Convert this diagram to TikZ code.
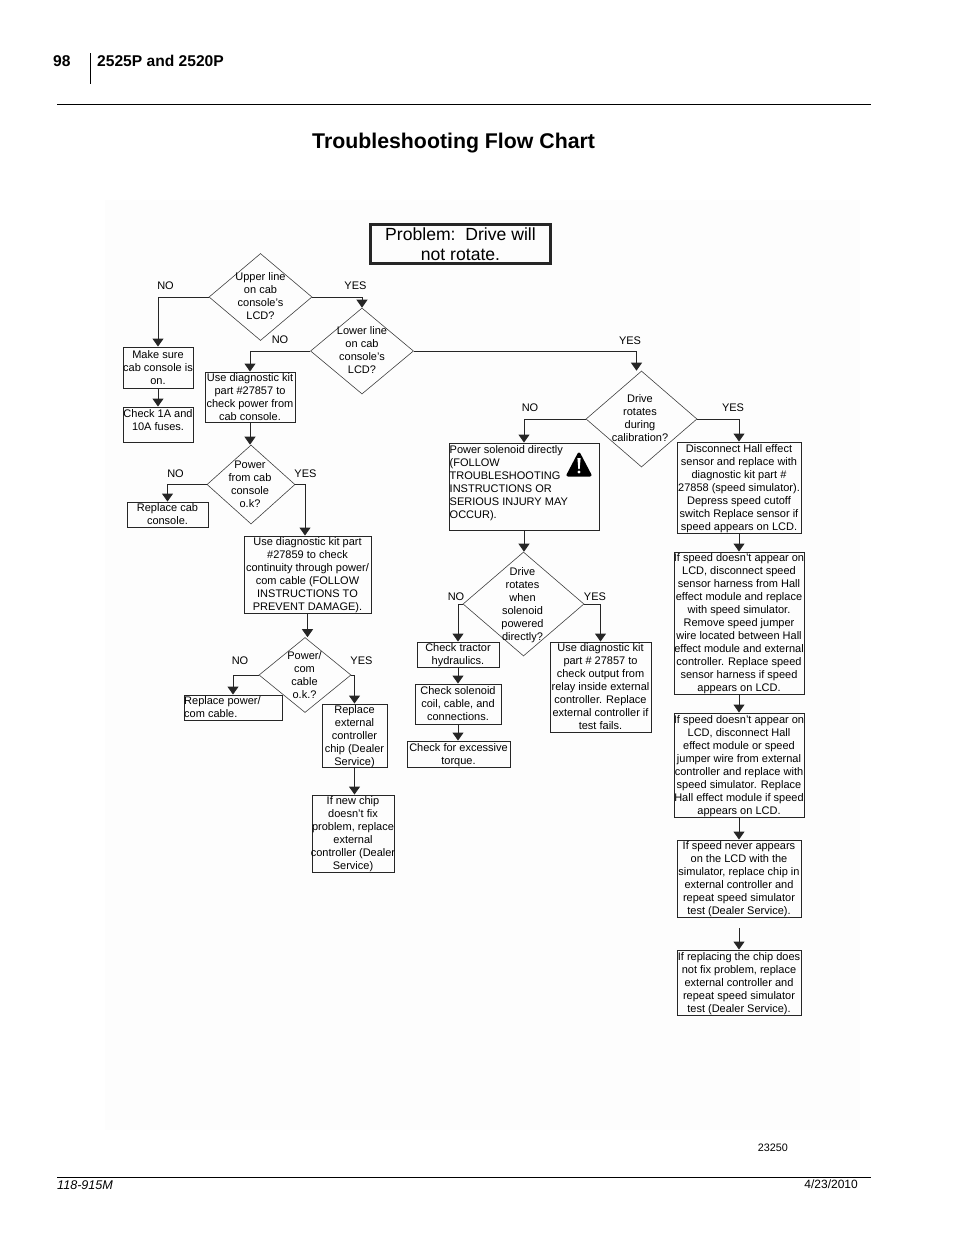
\documentclass[tikz,border=0pt]{standalone}
\usepackage{fontspec}
\setmainfont{Liberation Sans}
\usetikzlibrary{shapes.geometric, arrows.meta, calc}

\tikzset{
	box/.style={draw=black!85, line width=0.9pt, inner ysep=0pt, inner xsep=-3pt, align=center, text depth=-2pt, font=\fontsize{11}{13}\selectfont},
	dia/.style={diamond, draw=black!75, line width=0.6pt, inner sep=0pt, aspect=1},
	txt/.style={inner sep=0pt, align=center, text depth=-2pt, font=\fontsize{11}{13}\selectfont},
	lefttxt/.style={txt, align=left},
	yesno/.style={inner sep=0pt, font=\fontsize{11}{13}\selectfont},
	link/.style={draw=black!85, line width=1pt, -{Triangle[length=8pt, width=11pt]}},
	head/.style={inner sep=0pt, font=\fontsize{15.6}{18}\selectfont\bfseries}
}

\begin{document}
\begin{tikzpicture}[x=1pt, y=-1pt]
	\useasboundingbox (0, 0) rectangle (954, 1235);
	\fill[black!0.6] (105, 200) rectangle (860, 1130);

	% page header and footer
	\node[head, anchor=west] (pagenum) at (53, 61) {98};
	\node[head, anchor=west] (model) at (97, 61) {2525P and 2520P};
	\draw[line width=1pt] (90, 53) -- (90, 84);
	\draw[line width=1pt] (57, 104.5) -- (871, 104.5);
	\node[inner sep=0pt, anchor=west, font=\fontsize{21.3}{26}\selectfont\bfseries] (title) at (312, 143) {Troubleshooting Flow Chart};
	\draw[line width=1pt] (57, 1177) -- (871, 1177);
	\node[inner sep=0pt, anchor=west, font=\fontsize{12.6}{14}\selectfont\itshape] (partnum) at (57, 1185.5) {118-915M};
	\node[inner sep=0pt, anchor=east, font=\fontsize{12}{14}\selectfont] (date) at (858, 1184) {4/23/2010};
	\node[inner sep=0pt, anchor=east, font=\fontsize{10.8}{13}\selectfont] (fignum) at (788, 1147.5) {23250};

	\node[box, line width=3pt, minimum width=180pt, minimum height=39pt, font=\fontsize{17.6}{20}\selectfont, text depth=-6pt] (problem) at (460.5, 244) {Problem:\ \ Drive will\\not rotate.};

	% left branch
	\node[dia, minimum width=103pt, minimum height=87pt] (upper) at (260.5, 297) {};
	\node[txt] (uppertxt) at (260.5, 296.5) {Upper line\\on cab\\console's\\LCD?};
	\node[dia, minimum width=103pt, minimum height=86pt] (lower) at (362, 351) {};
	\node[txt] (lowertxt) at (362, 350.5) {Lower line\\on cab\\console's\\LCD?};
	\node[box, minimum width=70pt, minimum height=41pt] (make) at (158, 367.5) {Make sure\\cab console is\\on.};
	\node[box, minimum width=70pt, minimum height=35pt] (fuses) at (158, 424.5) {Check 1A and\\10A fuses.\\[-5pt]\mbox{}};
	\node[box, minimum width=90pt, minimum height=50pt] (kitone) at (250, 397) {Use diagnostic kit\\part \#27857 to\\check power from\\cab console.};
	\node[dia, minimum width=88pt, minimum height=79pt] (power) at (251, 484.5) {};
	\node[txt] (powertxt) at (250, 484.5) {Power\\from cab\\console\\o.k?};
	\node[box, minimum width=81pt, minimum height=25pt] (cab) at (167.5, 514.5) {Replace cab\\console.};
	\node[box, minimum width=127pt, minimum height=77pt] (kittwo) at (307.5, 574.5) {Use diagnostic kit part\\\#27859 to check\\continuity through power/\\com cable (FOLLOW\\INSTRUCTIONS TO\\PREVENT DAMAGE).};
	\node[dia, minimum width=92pt, minimum height=75pt] (com) at (305, 675) {};
	\node[txt] (comtxt) at (304.5, 675) {Power/\\com\\cable\\o.k.?};
	\node[box, minimum width=98pt, minimum height=25pt] (cable) at (233, 707.5) {};
	\node[lefttxt, anchor=west] (cabletxt) at (184, 707.5) {Replace power/\\com cable.};
	\node[box, minimum width=65pt, minimum height=63pt] (chip) at (354.5, 735.5) {Replace\\external\\controller\\chip (Dealer\\Service)};
	\node[box, minimum width=82pt, minimum height=77pt] (newchip) at (353, 833.5) {If new chip\\doesn't fix\\problem, replace\\external\\controller (Dealer\\Service)};

	% middle branch
	\node[dia, minimum width=111pt, minimum height=96pt] (drive) at (641.5, 419) {};
	\node[txt] (drivetxt) at (640, 418.5) {Drive\\rotates\\during\\calibration?};
	\node[box, minimum width=150pt, minimum height=87pt] (solenoid) at (524, 486.5) {};
	\node[lefttxt, anchor=north west] (solenoidtxt) at (449.5, 445) {Power solenoid directly\\(FOLLOW\\TROUBLESHOOTING\\INSTRUCTIONS OR\\SERIOUS INJURY MAY\\OCCUR).};
	\fill[line join=round, draw=black, line width=3pt] (579, 454) -- (590, 475) -- (568, 475) -- cycle;
	\fill[white] (577.4, 458) -- (580.6, 458) -- (579.7, 469) -- (578.3, 469) -- cycle;
	\fill[white] (579, 472) circle[radius=1.7];
	\node[dia, minimum width=121pt, minimum height=104pt] (whendia) at (523.5, 604) {};
	\node[txt] (whentxt) at (522.5, 604) {Drive\\rotates\\when\\solenoid\\powered\\directly?};
	\node[box, minimum width=82pt, minimum height=25pt] (tractor) at (458, 654.5) {Check tractor\\hydraulics.};
	\node[box, minimum width=86pt, minimum height=40pt] (coil) at (458, 704) {Check solenoid\\coil, cable, and\\connections.};
	\node[box, minimum width=103pt, minimum height=26pt] (torque) at (458.5, 754) {Check for excessive\\torque.};
	\node[box, minimum width=101pt, minimum height=90pt] (kitthree) at (600.5, 687) {Use diagnostic kit\\part \# 27857 to\\check output from\\relay inside external\\controller.  Replace\\external controller if\\test fails.};

	% right branch
	\node[box, minimum width=124pt, minimum height=91pt] (hall) at (739, 487.5) {Disconnect Hall effect\\sensor and replace with\\diagnostic kit part \#\\27858 (speed simulator).\\Depress speed cutoff\\switch  Replace sensor if\\speed appears on LCD.};
	\node[box, minimum width=130pt, minimum height=142pt] (harness) at (739, 623) {If speed doesn't appear on\\LCD, disconnect speed\\sensor harness from Hall\\effect module and replace\\with speed simulator.\\Remove speed jumper\\wire located between Hall\\effect module and external\\controller.  Replace speed\\sensor harness if speed\\appears on LCD.};
	\node[box, minimum width=130pt, minimum height=104pt] (jumper) at (739, 765) {If speed doesn't appear on\\LCD, disconnect Hall\\effect module or speed\\jumper wire from external\\controller and replace with\\speed simulator.  Replace\\Hall effect module if speed\\appears on LCD.};
	\node[box, minimum width=124pt, minimum height=77pt] (never) at (739, 878.5) {If speed never appears\\on the LCD with the\\simulator, replace chip in\\external controller and\\repeat speed simulator\\test (Dealer Service).};
	\coordinate (gap) at (739, 928);
	\node[box, minimum width=124pt, minimum height=65pt] (lastchip) at (739, 982.5) {If replacing the chip does\\not fix problem, replace\\external controller and\\repeat speed simulator\\test (Dealer Service).};

	% connectors
	\draw[link] (upper.west) -| (make.north);
	\draw[link] (make.south) -- (fuses.north);
	\draw[link] (upper.east) -| (lower.north);
	\draw[link] (lower.west) -| (kitone.north);
	\draw[link] (kitone.south) -- (kitone.south |- power.north);
	\draw[link] (power.west) -| (cab.north);
	\draw[link] (power.east) -| ($(kittwo.north) + (-2.5, 0)$);
	\draw[link] (kittwo.south) -- (kittwo.south |- com.north);
	\draw[link] (com.west) -| (cable.north);
	\draw[link] (com.east) -| (chip.north);
	\draw[link] (chip.south) -- (chip.south |- newchip.north);
	\draw[link] (lower.east) -| ($(drive.north) + (-5, 0)$);
	\draw[link] (drive.west) -| (solenoid.north);
	\draw[link] (drive.east) -| (hall.north);
	\draw[link] (solenoid.south) -- (solenoid.south |- whendia.north);
	\draw[link] (whendia.west) -| (tractor.north);
	\draw[link] (whendia.east) -| (kitthree.north);
	\draw[link] (tractor.south) -- (coil.north);
	\draw[link] (coil.south) -- (coil.south |- torque.north);
	\draw[link] (hall.south) -- (harness.north);
	\draw[link] (harness.south) -- (jumper.north);
	\draw[link] (jumper.south) -- (never.north);
	\draw[link] (gap) -- (lastchip.north);

	% yes and no labels
	\node[yesno] (noupper) at (165.5, 286) {NO};
	\node[yesno] (yesupper) at (355.5, 286) {YES};
	\node[yesno] (nolower) at (280, 339.5) {NO};
	\node[yesno] (yeslower) at (630, 340.5) {YES};
	\node[yesno] (nopower) at (175.5, 474) {NO};
	\node[yesno] (yespower) at (305.5, 474) {YES};
	\node[yesno] (nodrive) at (530, 408) {NO};
	\node[yesno] (yesdrive) at (733, 408) {YES};
	\node[yesno] (nowhen) at (456, 597) {NO};
	\node[yesno] (yeswhen) at (595, 597) {YES};
	\node[yesno] (nocom) at (240, 661) {NO};
	\node[yesno] (yescom) at (361.5, 661) {YES};
\end{tikzpicture}
\end{document}
